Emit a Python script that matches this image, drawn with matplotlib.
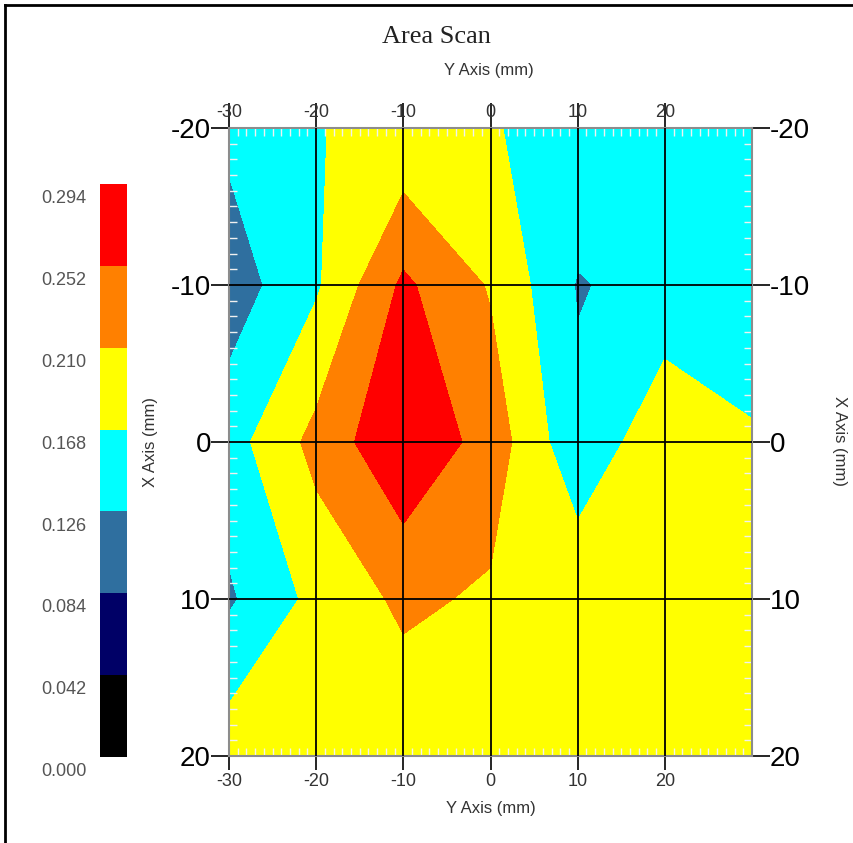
import numpy as np
import matplotlib
matplotlib.use("Agg")
import matplotlib.pyplot as plt
from matplotlib.lines import Line2D
from matplotlib.transforms import ScaledTranslation

# scan grid (mm)
y_pos = [-30, -20, -10, 0, 10, 20, 30]
x_pos = [-20, -10, 0, 10, 20]

# measured values, one row per X position
row_m20 = [0.136, 0.167, 0.175, 0.170, 0.156, 0.150, 0.152]
row_m10 = [0.103, 0.162, 0.260, 0.206, 0.123, 0.141, 0.145]
row_0 = [0.150, 0.223, 0.289, 0.234, 0.136, 0.198, 0.172]
row_10 = [0.120, 0.180, 0.218, 0.204, 0.200, 0.190, 0.185]
row_20 = [0.192, 0.185, 0.182, 0.185, 0.190, 0.188, 0.186]

levels = [0.000, 0.042, 0.084, 0.126, 0.168, 0.210, 0.252, 0.294]
level_labels = ["0.000", "0.042", "0.084", "0.126", "0.168", "0.210", "0.252", "0.294"]
colors = ["#000000", "#000066", "#2f6f9f", "#00ffff", "#ffff00", "#ff8000", "#ff0000"]

plt.rcParams['font.family'] = ['Liberation Sans', 'DejaVu Sans']
plt.rcParams['axes.unicode_minus'] = False

W, H = 854, 843
fig = plt.figure(figsize=(W / 100, H / 100), dpi=100)

Z = np.array([row_m20, row_m10, row_0, row_10, row_20])
Y, X = np.meshgrid(y_pos, x_pos)

ax = fig.add_axes([229 / W, 1 - 756 / H, (752 - 229) / W, (756 - 128) / H])
ax.contourf(Y, X, Z, levels=levels, colors=colors)
ax.set_xlim(-30, 30)
ax.set_ylim(20, -20)

# grid
for v in [-20, -10, 0, 10, 20]:
    ax.axvline(v, color="black", lw=1.3, zorder=3)
for v in [-10, 0, 10]:
    ax.axhline(v, color="black", lw=1.3, zorder=3)

ax.set_xticks([-30, -20, -10, 0, 10, 20])
ax.set_yticks([-20, -10, 0, 10, 20])
ax.set_xticks(np.arange(-29, 30, 1), minor=True)
ax.set_yticks(np.arange(-19, 20, 1), minor=True)

ax.tick_params(axis="x", which="major", bottom=True, top=True, labelbottom=True, labeltop=True,
               direction="out", length=10, pad=2, color="black", width=1.2,
               labelsize=13, labelcolor="#333333")
ax.tick_params(axis="y", which="major", left=True, right=True, labelleft=True, labelright=True,
               direction="out", length=13, width=1.2, color="black", pad=0, labelsize=20)
ax.tick_params(which="minor", direction="in", length=6, width=1.0, color="#f0f0f0",
               top=True, bottom=True, left=True, right=True)

# top ticks are longer and their labels sit over them
top_offset = ScaledTranslation(0, -7 / 72, fig.dpi_scale_trans)
for t in ax.xaxis.get_major_ticks():
    t.tick2line.set_markersize(18)
    t.label2.set_va("bottom")
    t.label2.set_transform(t.label2.get_transform() + top_offset)

for s in ax.spines.values():
    s.set_color("#8c8c8c")
    s.set_linewidth(1.5)

ax.set_xlabel("Y Axis (mm)", fontsize=12, color="#333333", labelpad=8)
ax.set_ylabel("X Axis (mm)", fontsize=12, color="#333333")
ax.yaxis.set_label_coords(-0.135, 0.5)

fig.text(489 / W, 1 - 70 / H, "Y Axis (mm)", fontsize=12, color="#333333", ha="center", va="center")
fig.text(840 / W, 1 - 441 / H, "X Axis (mm)", fontsize=12, color="#333333", ha="center",
         va="center", rotation=-90)
fig.text(436 / W, 1 - 37 / H, "Area Scan", fontsize=19, family="Liberation Serif",
         color="#222222", ha="center", va="center")

# colour key
cax = fig.add_axes([100 / W, 1 - 757 / H, 27 / W, (757 - 184) / H])
for i, c in enumerate(colors):
    cax.bar(0, levels[i + 1] - levels[i], bottom=levels[i], width=1, color=c)
cax.set_xlim(-0.5, 0.5)
cax.set_ylim(levels[0], levels[-1])
cax.axis("off")
for v, s in zip(levels, level_labels):
    cax.text(-1.0, v - 0.0075, s, fontsize=13, color="#555555", ha="right", va="center")

# page frame (top and left edges only)
fig.add_artist(Line2D([5 / W, 5 / W], [0, 1 - 5 / H], color="black", lw=2, transform=fig.transFigure))
fig.add_artist(Line2D([5 / W, 1], [1 - 5 / H, 1 - 5 / H], color="black", lw=2, transform=fig.transFigure))

fig.savefig("out.png", dpi=100, facecolor="white")
